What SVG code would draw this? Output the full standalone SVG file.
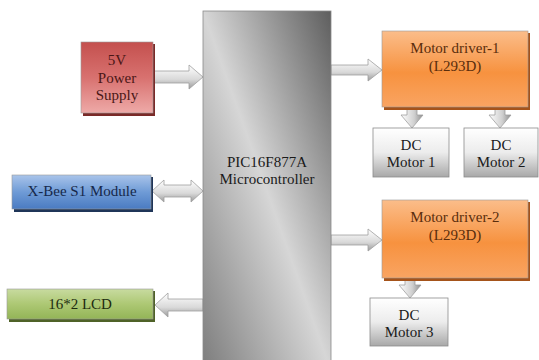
<svg xmlns="http://www.w3.org/2000/svg" width="539" height="360" viewBox="0 0 539 360">
<defs>
<linearGradient id="gMC" x1="1" y1="0" x2="0" y2="1">
<stop offset="0" stop-color="#5e5e5e"/>
<stop offset="0.5" stop-color="#d6d6d6"/>
<stop offset="1" stop-color="#7c7c7c"/>
</linearGradient>
<linearGradient id="gRed" x1="0" y1="0" x2="0" y2="1">
<stop offset="0" stop-color="#c4504e"/>
<stop offset="0.5" stop-color="#d8716f"/>
<stop offset="1" stop-color="#eeaaa8"/>
</linearGradient>
<linearGradient id="gBlue" x1="0" y1="0" x2="0" y2="1">
<stop offset="0" stop-color="#a9c4ea"/>
<stop offset="0.5" stop-color="#6f9bd6"/>
<stop offset="1" stop-color="#4a7bc2"/>
</linearGradient>
<linearGradient id="gGreen" x1="0" y1="0" x2="0" y2="1">
<stop offset="0" stop-color="#c8dba0"/>
<stop offset="0.5" stop-color="#adc874"/>
<stop offset="1" stop-color="#93b457"/>
</linearGradient>
<linearGradient id="gOrange" x1="0" y1="0" x2="0" y2="1">
<stop offset="0" stop-color="#fbbd8a"/>
<stop offset="0.55" stop-color="#f7923f"/>
<stop offset="1" stop-color="#f9a462"/>
</linearGradient>
<linearGradient id="gWhite" x1="0" y1="0" x2="0" y2="1">
<stop offset="0" stop-color="#ffffff"/>
<stop offset="0.5" stop-color="#ececec"/>
<stop offset="1" stop-color="#a8a8a8"/>
</linearGradient>
<linearGradient id="gArrH" x1="0" y1="0" x2="0" y2="1">
<stop offset="0" stop-color="#ffffff"/>
<stop offset="0.6" stop-color="#d9d9d9"/>
<stop offset="1" stop-color="#9a9a9a"/>
</linearGradient>
<linearGradient id="gArrV" x1="0" y1="0" x2="1" y2="0">
<stop offset="0" stop-color="#ffffff"/>
<stop offset="0.6" stop-color="#d0d0d0"/>
<stop offset="1" stop-color="#8e8e8e"/>
</linearGradient>
</defs>
<style>
text{font-family:'Liberation Serif','DejaVu Serif',serif;font-size:15px;text-anchor:middle}
.ah{fill:url(#gArrH);stroke:#a0a0a0;stroke-width:0.8}
.av{fill:url(#gArrV);stroke:#a0a0a0;stroke-width:0.8}
.box{stroke:#9a9a9a;stroke-width:0.6}
</style>
<rect width="539" height="360" fill="#ffffff"/>

<g id="connectors">
<path class="ah" d="M153,71 H189 V65 L203,77 L189,89 V83 H153 Z"/>
<path class="ah" d="M152,191 L164,180 V185 H191 V180 L203,191 L191,202 V197 H164 V202 Z"/>
<path class="ah" d="M203,299 H168 V293 L155,305 L168,317 V311 H203 Z"/>
<path class="ah" d="M331,65 H368 V59 L382,70 L368,81 V75 H331 Z"/>
<path class="ah" d="M331,235 H368 V229 L382,240 L368,251 V245 H331 Z"/>
<path class="av" d="M407,90 H417 V115 H423 L412,128 L401,115 H407 Z"/>
<path class="av" d="M495,90 H505 V115 H511 L500,128 L489,115 H495 Z"/>
<path class="av" d="M405,259 H415 V285 H421 L410,298 L399,285 H405 Z"/>
</g>

<g font-family="Liberation Serif, DejaVu Serif, serif">
<g id="mcu">
<rect x="203" y="11" width="128" height="360" fill="url(#gMC)" stroke="#8a8a8a" stroke-width="0.8"/>
<text x="267" y="167" fill="#1a1a1a">PIC16F877A</text>
<text x="267" y="184" fill="#1a1a1a">Microcontroller</text>
</g>

<g id="power">
<rect x="83" y="44" width="72" height="72" fill="#7a2a28"/>
<rect x="81" y="42" width="72" height="71" fill="url(#gRed)" class="box"/>
<text x="117" y="65" fill="#4a1616">5V</text>
<text x="117" y="83" fill="#4a1616">Power</text>
<text x="117" y="100" fill="#4a1616">Supply</text>
</g>

<g id="xbee">
<rect x="14" y="177" width="139" height="35" fill="#1f3558"/>
<rect x="12" y="175" width="139" height="34" fill="url(#gBlue)" class="box"/>
<text x="82" y="196" fill="#16284a">X-Bee S1 Module</text>
</g>

<g id="lcd">
<rect x="9" y="291" width="146" height="31" fill="#4f6228"/>
<rect x="7" y="289" width="146" height="30" fill="url(#gGreen)" class="box"/>
<text x="80" y="309" fill="#1d2b0f">16*2 LCD</text>
</g>

<g id="driver1">
<rect x="384" y="33" width="146" height="77" fill="#a5531a"/>
<rect x="382" y="31" width="146" height="76" fill="url(#gOrange)" class="box"/>
<text x="455" y="53" fill="#5a2d0c">Motor driver-1</text>
<text x="455" y="71" fill="#5a2d0c">(L293D)</text>
</g>

<g id="driver2">
<rect x="384" y="202" width="146" height="79" fill="#a5531a"/>
<rect x="382" y="200" width="146" height="78" fill="url(#gOrange)" class="box"/>
<text x="455" y="222" fill="#5a2d0c">Motor driver-2</text>
<text x="455" y="240" fill="#5a2d0c">(L293D)</text>
</g>

<g id="motor1">
<rect x="373" y="128" width="76" height="49" fill="url(#gWhite)" stroke="#8c8c8c" stroke-width="0.8"/>
<text x="411" y="150" fill="#1a1a1a">DC</text>
<text x="411" y="167" fill="#1a1a1a">Motor 1</text>
</g>

<g id="motor2">
<rect x="464" y="128" width="74" height="49" fill="url(#gWhite)" stroke="#8c8c8c" stroke-width="0.8"/>
<text x="501" y="150" fill="#1a1a1a">DC</text>
<text x="501" y="167" fill="#1a1a1a">Motor 2</text>
</g>

<g id="motor3">
<rect x="370" y="298" width="78" height="48" fill="url(#gWhite)" stroke="#8c8c8c" stroke-width="0.8"/>
<text x="409" y="320" fill="#1a1a1a">DC</text>
<text x="409" y="337" fill="#1a1a1a">Motor 3</text>
</g>
</g>
</svg>
